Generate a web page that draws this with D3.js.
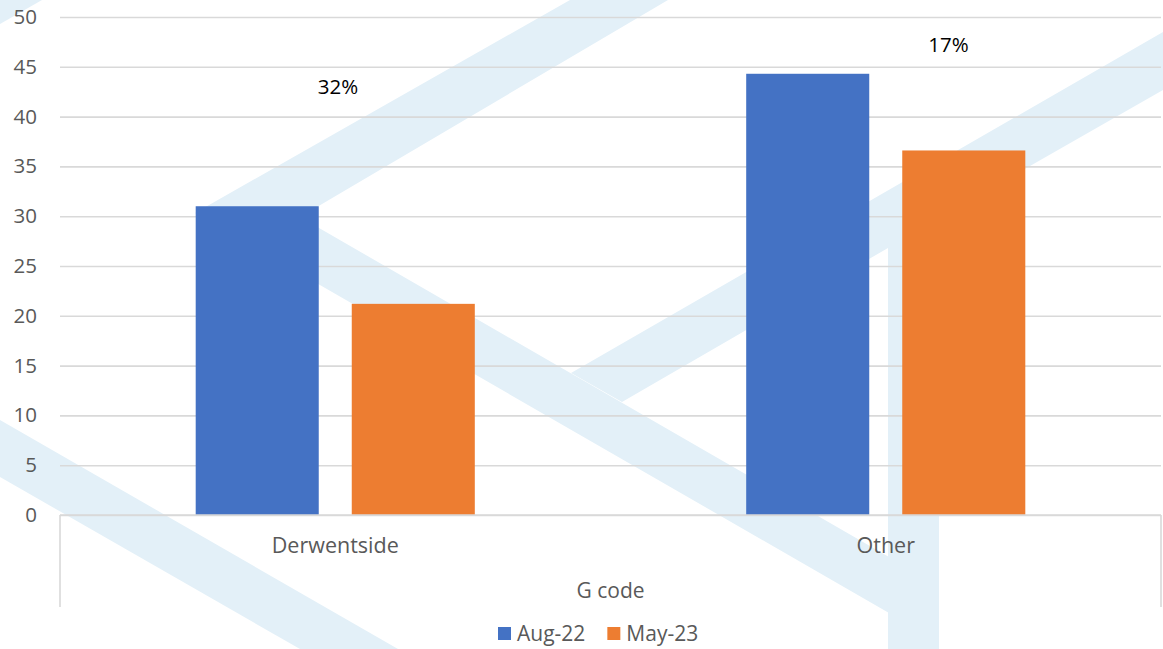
<!DOCTYPE html>
<html>
<head>
<meta charset="utf-8">
<script src="https://cdn.jsdelivr.net/npm/d3@7"></script>
<style>
  html, body { margin: 0; padding: 0; background: #fff; }
  svg { display: block; }
  text { font-family: "Open Sans", sans-serif; }
</style>
</head>
<body>
<svg id="chart" width="1163" height="649"></svg>
<script>
// ---- data ----
const categories = ["Derwentside", "Other"];
const seriesNames = ["Aug-22", "May-23"];
const aug22 = [31.0, 44.3];
const may23 = [21.2, 36.6];
const yTicks = [0, 5, 10, 15, 20, 25, 30, 35, 40, 45, 50];
const pctLabels = ["32%", "17%"];
const pctLabelY = [43.0, 47.2];          // in value units
const pctLabelBandFrac = [0.51, 0.725];  // position across the category group
const axisTitle = "G code";
const colors = ["#4472C4", "#ED7D31"];

// ---- decorative background watermark (not data) ----
const watermark = [
  [[570,0],[668,0],[300,217],[889,557],[889,613],[195,213]],
  [[571,373],[1163,32],[1163,90],[939,218],[939,649],[888,649],[888,248],[622,402]],
  [[0,420],[0,477],[300,649],[398,649]],
  [[0,0],[42,0],[0,24]]
];

const svg = d3.select("#chart");
const plotLeft = 60, plotRight = 1161, plotTop = 17, plotBottom = 515;

svg.append("g").selectAll("polygon").data(watermark).join("polygon")
  .attr("points", d => d.map(p => p.join(",")).join(" "))
  .attr("fill", "#e3f0f8");

const y = d3.scaleLinear().domain([0, 50]).range([plotBottom, plotTop]);
const x0 = d3.scaleBand().domain(categories).range([plotLeft, plotRight])
  .paddingInner(0.493).paddingOuter(0.2465);
const x1 = d3.scaleBand().domain(seriesNames).range([0, x0.bandwidth()])
  .paddingInner(0.2115);
const color = d3.scaleOrdinal().domain(seriesNames).range(colors);

// gridlines
const yAxis = d3.axisLeft(y).tickValues(yTicks).tickSize(-(plotRight - plotLeft)).tickPadding(23);
const gy = svg.append("g").attr("transform", `translate(${plotLeft},0)`).call(yAxis);
gy.select(".domain").remove();
gy.selectAll(".tick line").attr("stroke", "#d9d9d9").attr("stroke-width", 1.6);
gy.selectAll(".tick text").attr("fill", "#595959").attr("font-size", 20.5)
  .attr("font-family", "Open Sans, sans-serif");

// bars
const rows = categories.map((c, i) => ({ cat: c, vals: [aug22[i], may23[i]] }));
svg.append("g").selectAll("g").data(rows).join("g")
  .attr("transform", d => `translate(${x0(d.cat)},0)`)
  .selectAll("rect").data(d => d.vals.map((v, j) => ({ s: seriesNames[j], v })))
  .join("rect")
  .attr("x", d => x1(d.s))
  .attr("width", x1.bandwidth())
  .attr("y", d => y(d.v))
  .attr("height", d => y(0) - y(d.v))
  .attr("fill", d => color(d.s));

// category axis (multi-level box)
const axisG = svg.append("g");
axisG.append("line").attr("x1", plotLeft).attr("x2", plotRight).attr("y1", y(0)).attr("y2", y(0))
  .attr("stroke", "#d9d9d9").attr("stroke-width", 1.6);
[plotLeft, plotRight].forEach(xx => {
  axisG.append("line").attr("x1", xx).attr("x2", xx).attr("y1", y(0)).attr("y2", 607)
    .attr("stroke", "#d9d9d9").attr("stroke-width", 1.6);
});
axisG.selectAll("text.cat").data(categories).join("text").attr("class", "cat")
  .attr("x", d => x0(d) + x0.bandwidth() / 2)
  .attr("y", 553)
  .attr("text-anchor", "middle").attr("font-size", 21.5).attr("fill", "#595959")
  .text(d => d);
axisG.append("text").attr("x", (plotLeft + plotRight) / 2).attr("y", 598)
  .attr("text-anchor", "middle").attr("font-size", 21).attr("fill", "#595959")
  .text(axisTitle);

// percent labels
svg.append("g").selectAll("text").data(categories).join("text")
  .attr("x", (d, i) => x0(d) + x0.bandwidth() * pctLabelBandFrac[i])
  .attr("y", (d, i) => y(pctLabelY[i]) + 7)
  .attr("text-anchor", "middle").attr("font-size", 20.5).attr("fill", "#000")
  .text((d, i) => pctLabels[i]);

// legend
const legend = svg.append("g");
let lx = 498;
seriesNames.forEach(s => {
  legend.append("rect").attr("x", lx).attr("y", 627).attr("width", 13).attr("height", 13)
    .attr("fill", color(s));
  const t = legend.append("text").attr("x", lx + 19).attr("y", 641)
    .attr("font-size", 21).attr("fill", "#595959").text(s);
  lx += 19 + t.node().getComputedTextLength() + 22;
});
</script>
</body>
</html>
